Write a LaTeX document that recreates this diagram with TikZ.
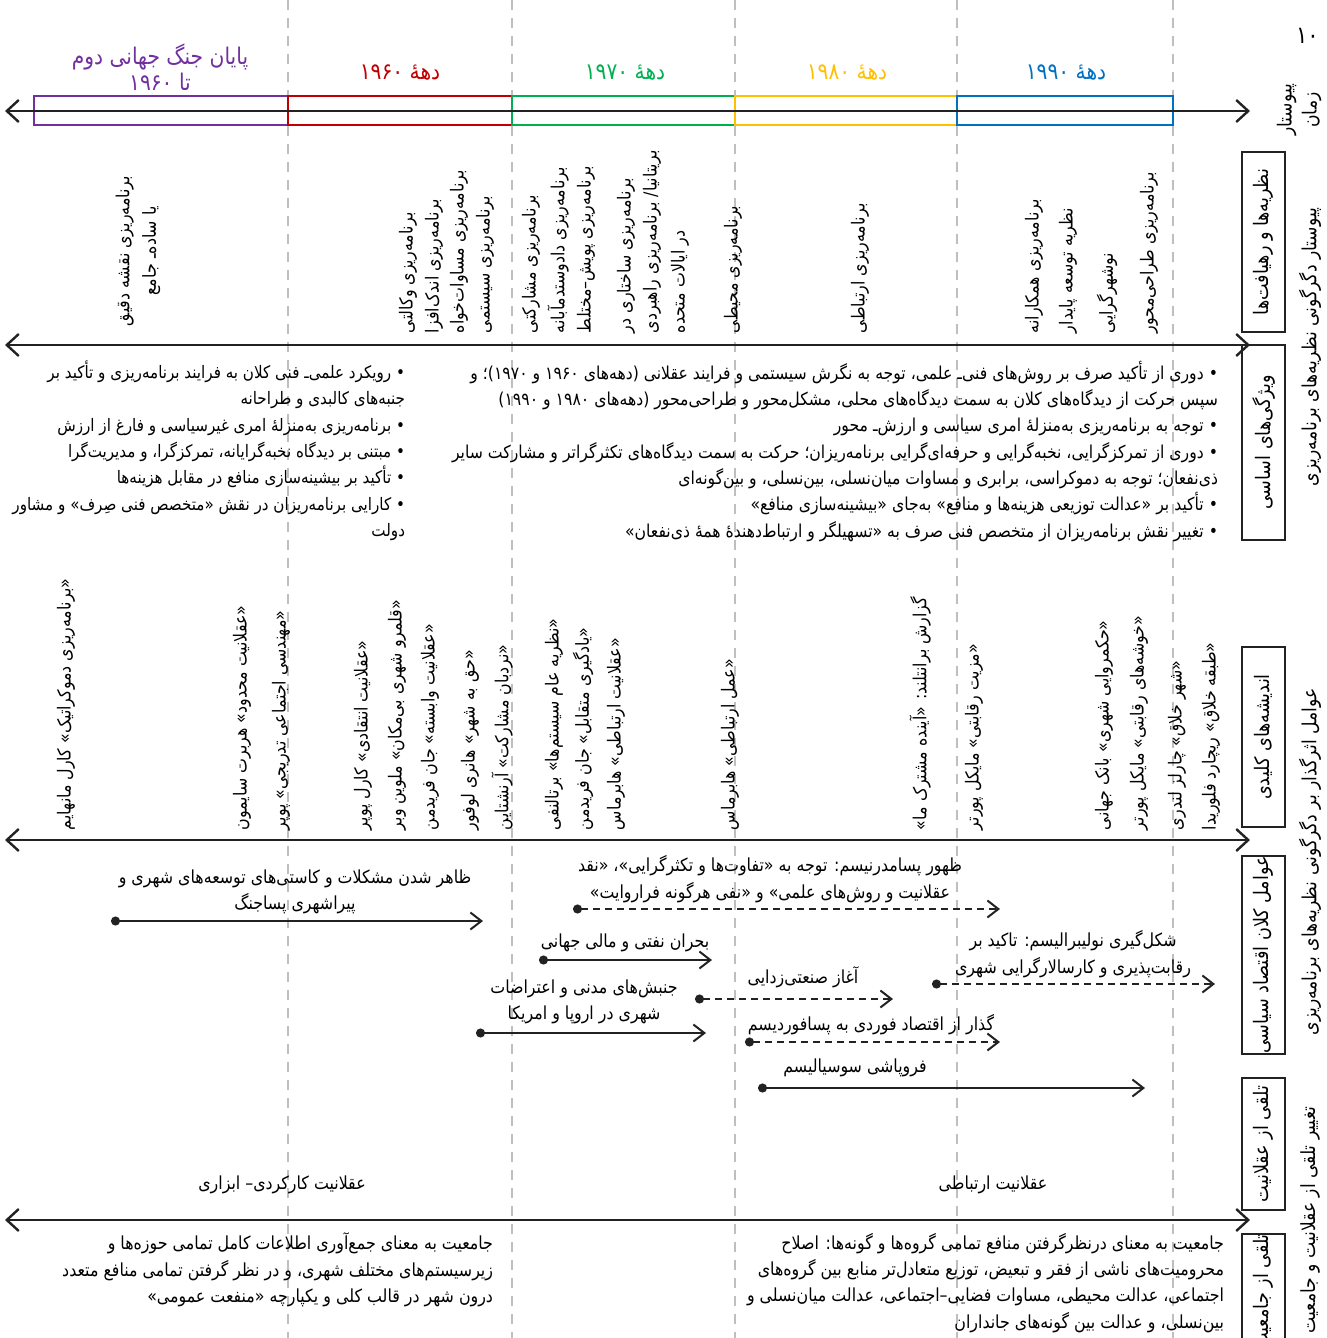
\documentclass[tikz,border=0pt]{standalone}
\usepackage{fontspec}
\usetikzlibrary{arrows.meta}
\newfontfamily\fa[Script=Arabic,FakeStretch=0.88]{DejaVu Sans}
\TeXXeTstate=1
\newcommand\fatxt[1]{\beginR#1\endR}
\definecolor{cpurple}{HTML}{7030A0}
\definecolor{cred}{HTML}{C00000}
\definecolor{cgreen}{HTML}{00B050}
\definecolor{cyellow}{HTML}{FFC000}
\definecolor{cblue}{HTML}{0070C0}
\definecolor{cgrid}{HTML}{BFBFBF}
\definecolor{cline}{HTML}{222222}
\begin{document}
\begin{tikzpicture}[x=1pt,y=-1pt,
  every node/.style={inner sep=0pt,outer sep=0pt},
  body/.style={font=\fa\fontsize{18}{26.3}\selectfont},
  hdr/.style={font=\fa\fontsize{23}{26}\selectfont},
  vt/.style={body,rotate=90,anchor=west},
  gridline/.style={draw=cgrid,line width=1.5pt,dash pattern=on 10pt off 8pt},
  dbox/.style={draw,line width=2pt,minimum height=29pt},
  sbox/.style={draw=cline,line width=2pt,rotate=90,minimum height=43pt,font=\fa\fontsize{20}{22}\selectfont},
  outer/.style={rotate=90,font=\fa\fontsize{19.5}{25}\selectfont},
  mainarrow/.style={draw=cline,line width=2.4pt,arrows={Straight Barb[length=12pt,width=22pt]-Straight Barb[length=12pt,width=22pt]}},
  factarrow/.style={draw=cline,line width=2pt,arrows={Circle[length=9pt]-Straight Barb[length=11pt,width=17pt]}},
  dfact/.style={factarrow,dash pattern=on 7pt off 5pt}
]
\useasboundingbox (0,0) rectangle (1326,1338);

% vertical dashed grid lines
\foreach \gx/\gn in {288/g1,512/g2,735/g3,957/g4,1173/g5}{
  \coordinate (\gn t) at (\gx,0);
  \coordinate (\gn b) at (\gx,1338);
  \draw[gridline] (\gn t) -- (\gn b);
}

% decade boxes
\node[dbox,draw=cpurple,minimum width=254pt] (b0) at (161,110.5) {};
\node[dbox,draw=cred,minimum width=224pt] (b1) at (400,110.5) {};
\node[dbox,draw=cgreen,minimum width=223pt] (b2) at (623.5,110.5) {};
\node[dbox,draw=cyellow,minimum width=222pt] (b3) at (846,110.5) {};
\node[dbox,draw=cblue,minimum width=216pt] (b4) at (1065,110.5) {};

% decade labels
\node[hdr,text=cpurple,align=center] (h0) at (160,67) {\fatxt{پایان جنگ جهانی دوم}\\\fatxt{تا ۱۹۶۰}};
\node[hdr,text=cred] (h1) at (400,73) {\fatxt{دههٔ ۱۹۶۰}};
\node[hdr,text=cgreen] (h2) at (625,73) {\fatxt{دههٔ ۱۹۷۰}};
\node[hdr,text=cyellow] (h3) at (847,73) {\fatxt{دههٔ ۱۹۸۰}};
\node[hdr,text=cblue] (h4) at (1066,73) {\fatxt{دههٔ ۱۹۹۰}};

% main double arrows
\coordinate (m1l) at (5,111);   \coordinate (m1r) at (1250,111);
\coordinate (m2l) at (5,345);   \coordinate (m2r) at (1250,345);
\coordinate (m3l) at (5,840);   \coordinate (m3r) at (1250,840);
\coordinate (m4l) at (5,1220);  \coordinate (m4r) at (1250,1220);
\draw[mainarrow] (m1l) -- (m1r);
\draw[mainarrow] (m2l) -- (m2r);
\draw[mainarrow] (m3l) -- (m3r);
\draw[mainarrow] (m4l) -- (m4r);

% theories (rotated)
\node[body,rotate=90,align=center] (t0) at (138,251) {\fatxt{برنامه‌ریزی نقشه دقیق}\\\fatxt{یا ساده‌ـ جامع}};
\node[vt] (t1a) at (408,333) {\fatxt{برنامه‌ریزی وکالتی}};
\node[vt] (t1b) at (434,333) {\fatxt{برنامه‌ریزی اندک‌افزا}};
\node[vt] (t1c) at (459,333) {\fatxt{برنامه‌ریزی مساوات‌خواه}};
\node[vt] (t1d) at (485,333) {\fatxt{برنامه‌ریزی سیستمی}};
\node[vt] (t2a) at (531,333) {\fatxt{برنامه‌ریزی مشارکتی}};
\node[vt] (t2b) at (558,333) {\fatxt{برنامه‌ریزی دادوستدمآبانه}};
\node[vt] (t2c) at (586,333) {\fatxt{برنامه‌ریزی پویش–مختلط}};
\node[vt] (t2d) at (626,333) {\fatxt{برنامه‌ریزی ساختاری در}};
\node[vt] (t2e) at (652,333) {\fatxt{بریتانیا/ برنامه‌ریزی راهبردی}};
\node[vt] (t2f) at (680,333) {\fatxt{در ایالات متحده}};
\node[vt] (t3a) at (733,333) {\fatxt{برنامه‌ریزی محیطی}};
\node[vt] (t3b) at (860,333) {\fatxt{برنامه‌ریزی ارتباطی}};
\node[vt] (t4a) at (1034,333) {\fatxt{برنامه‌ریزی همکارانه}};
\node[vt] (t4b) at (1068,333) {\fatxt{نظریه توسعه پایدار}};
\node[vt] (t4c) at (1107,333) {\fatxt{نوشهرگرایی}};
\node[vt] (t4d) at (1149,333) {\fatxt{برنامه‌ریزی طراحی‌محور}};

% basic features
\node[body,font=\fa\fontsize{17.2}{26.3}\selectfont,align=right,anchor=north east] (f0) at (405,361) {%
\fatxt{• رویکرد علمی‌ـ فنی کلان به فرایند برنامه‌ریزی و تأکید بر}\\
\fatxt{جنبه‌های کالبدی و طراحانه}\\
\fatxt{• برنامه‌ریزی به‌منزلهٔ امری غیرسیاسی و فارغ از ارزش}\\
\fatxt{• مبتنی بر دیدگاه نخبه‌گرایانه، تمرکزگرا، و مدیریت‌گرا}\\
\fatxt{• تأکید بر بیشینه‌سازی منافع در مقابل هزینه‌ها}\\
\fatxt{• کارایی برنامه‌ریزان در نقش «متخصص فنی صِرف» و مشاور}\\
\fatxt{دولت}};
\node[body,font=\fa\fontsize{17.8}{26.3}\selectfont,align=right,anchor=north east] (f1) at (1218,361) {%
\fatxt{• دوری از تأکید صرف بر روش‌های فنی‌ـ علمی، توجه به نگرش سیستمی و فرایند عقلانی (دهه‌های ۱۹۶۰ و ۱۹۷۰)؛ و}\\
\fatxt{سپس حرکت از دیدگاه‌های کلان به سمت دیدگاه‌های محلی، مشکل‌محور و طراحی‌محور (دهه‌های ۱۹۸۰ و ۱۹۹۰)}\\
\fatxt{• توجه به برنامه‌ریزی به‌منزلهٔ امری سیاسی و ارزش‌ـ محور}\\
\fatxt{• دوری از تمرکزگرایی، نخبه‌گرایی و حرفه‌ای‌گرایی برنامه‌ریزان؛ حرکت به سمت دیدگاه‌های تکثرگراتر و مشارکت سایر}\\
\fatxt{ذی‌نفعان؛ توجه به دموکراسی، برابری و مساوات میان‌نسلی، بین‌نسلی، و بین‌گونه‌ای}\\
\fatxt{• تأکید بر «عدالت توزیعی هزینه‌ها و منافع» به‌جای «بیشینه‌سازی منافع»}\\
\fatxt{• تغییر نقش برنامه‌ریزان از متخصص فنی صرف به «تسهیلگر و ارتباط‌دهندهٔ همهٔ ذی‌نفعان»}};

% key ideas (rotated)
\node[vt] (k1) at (66,830) {\fatxt{«برنامه‌ریزی دموکراتیک» کارل مانهایم}};
\node[vt] (k2) at (242,830) {\fatxt{«عقلانیت محدود» هربرت سایمون}};
\node[vt] (k3) at (281,830) {\fatxt{«مهندسی اجتماعی تدریجی» پوپر}};
\node[vt] (k4) at (363,830) {\fatxt{«عقلانیت انتقادی» کارل پوپر}};
\node[vt] (k5) at (397,830) {\fatxt{«قلمرو شهری بی‌مکان» ملوین وبر}};
\node[vt] (k6) at (430,830) {\fatxt{«عقلانیت وابسته» جان فریدمن}};
\node[vt] (k7) at (470,830) {\fatxt{«حق به شهر» هانری لوفور}};
\node[vt] (k8) at (502,830) {\fatxt{«نردبان مشارکت» آرنشتاین}};
\node[vt] (k9) at (554,830) {\fatxt{«نظریه عام سیستم‌ها» برتالنفی}};
\node[vt] (k10) at (583,830) {\fatxt{«یادگیری متقابل» جان فریدمن}};
\node[vt] (k11) at (616,830) {\fatxt{«عقلانیت ارتباطی» هابرماس}};
\node[vt] (k12) at (730,830) {\fatxt{«عمل ارتباطی» هابرماس}};
\node[vt] (k13) at (920,830) {\fatxt{گزارش برانتلند: «آینده مشترک ما»}};
\node[vt] (k14) at (974,830) {\fatxt{«مزیت رقابتی» مایکل پورتر}};
\node[vt] (k15) at (1104,830) {\fatxt{«حکمروایی شهری» بانک جهانی}};
\node[vt] (k16) at (1139,830) {\fatxt{«خوشه‌های رقابتی» مایکل پورتر}};
\node[vt] (k17) at (1177,830) {\fatxt{«شهر خلاق» چارلز لندری}};
\node[vt] (k18) at (1211,830) {\fatxt{«طبقه خلاق» ریچارد فلوریدا}};

% macro factors
\node[body,align=center] (e1) at (295,892) {\fatxt{ظاهر شدن مشکلات و کاستی‌های توسعه‌های شهری و}\\\fatxt{پیراشهری پساجنگ}};
\node[body,align=center] (e2) at (770,879) {\fatxt{ظهور پسامدرنیسم: توجه به «تفاوت‌ها و تکثرگرایی»، «نقد}\\\fatxt{عقلانیت و روش‌های علمی» و «نفی هرگونه فراروایت»}};
\node[body] (e3) at (625,943) {\fatxt{بحران نفتی و مالی جهانی}};
\node[body] (e4) at (803,977) {\fatxt{آغاز صنعتی‌زدایی}};
\node[body,align=center] (e5) at (1073,954) {\fatxt{شکل‌گیری نولیبرالیسم: تاکید بر}\\\fatxt{رقابت‌پذیری و کارسالارگرایی شهری}};
\node[body,align=center] (e6) at (584,1002) {\fatxt{جنبش‌های مدنی و اعتراضات}\\\fatxt{شهری در اروپا و امریکا}};
\node[body] (e7) at (871,1025) {\fatxt{گذار از اقتصاد فوردی به پسافوردیسم}};
\node[body] (e8) at (855,1068) {\fatxt{فروپاشی سوسیالیسم}};

\coordinate (a1s) at (111,921);  \coordinate (a1e) at (483,921);
\coordinate (a2s) at (573,909);  \coordinate (a2e) at (1000,909);
\coordinate (a3s) at (539,960);  \coordinate (a3e) at (712,960);
\coordinate (a4s) at (695,999);  \coordinate (a4e) at (893,999);
\coordinate (a5s) at (932,984);  \coordinate (a5e) at (1215,984);
\coordinate (a6s) at (476,1033); \coordinate (a6e) at (706,1033);
\coordinate (a7s) at (745,1042); \coordinate (a7e) at (1000,1042);
\coordinate (a8s) at (758,1088); \coordinate (a8e) at (1145,1088);
\draw[factarrow] (a1s) -- (a1e);
\draw[dfact] (a2s) -- (a2e);
\draw[factarrow] (a3s) -- (a3e);
\draw[dfact] (a4s) -- (a4e);
\draw[dfact] (a5s) -- (a5e);
\draw[factarrow] (a6s) -- (a6e);
\draw[dfact] (a7s) -- (a7e);
\draw[factarrow] (a8s) -- (a8e);

% rationality
\node[body] (r1) at (282,1185) {\fatxt{عقلانیت کارکردی– ابزاری}};
\node[body] (r2) at (993,1185) {\fatxt{عقلانیت ارتباطی}};

% comprehensiveness
\node[body,align=right,anchor=north east] (c1) at (493,1233) {%
\fatxt{جامعیت به معنای جمع‌آوری اطلاعات کامل تمامی حوزه‌ها و}\\
\fatxt{زیرسیستم‌های مختلف شهری، و در نظر گرفتن تمامی منافع متعدد}\\
\fatxt{درون شهر در قالب کلی و یکپارچه «منفعت عمومی»}};
\node[body,align=right,anchor=north east] (c2) at (1224,1233) {%
\fatxt{جامعیت به معنای درنظرگرفتن منافع تمامی گروه‌ها و گونه‌ها: اصلاح}\\
\fatxt{محرومیت‌های ناشی از فقر و تبعیض، توزیع متعادل‌تر منابع بین گروه‌های}\\
\fatxt{اجتماعی، عدالت محیطی، مساوات فضایی–اجتماعی، عدالت میان‌نسلی و}\\
\fatxt{بین‌نسلی، و عدالت بین گونه‌های جانداران}};

% right column boxes
\node[sbox,minimum width=180pt] (s1) at (1263.5,242) {\fatxt{نظریه‌ها و رهیافت‌ها}};
\node[sbox,minimum width=195pt] (s2) at (1263.5,442.5) {\fatxt{ویژگی‌های اساسی}};
\node[sbox,minimum width=180pt] (s3) at (1263.5,737) {\fatxt{اندیشه‌های کلیدی}};
\node[sbox,minimum width=196pt] (s4) at (1263.5,955) {\fatxt{عوامل کلان اقتصاد سیاسی}};
\node[sbox,minimum width=132pt] (s5) at (1263.5,1144) {\fatxt{تلقی از عقلانیت}};
\node[sbox,minimum width=115pt] (s6) at (1263.5,1292) {\fatxt{تلقی از جامعیت}};

% outer labels
\node[outer,align=center] (o0) at (1299,110) {\fatxt{پیوستار}\\\fatxt{زمان}};
\node[outer] (o1) at (1310,347) {\fatxt{پیوستار دگرگونی نظریه‌های برنامه‌ریزی}};
\node[outer] (o2) at (1310,862) {\fatxt{عوامل اثرگذار بر دگرگونی نظریه‌های برنامه‌ریزی}};
\node[outer] (o3) at (1310,1220) {\fatxt{تغییر تلقی از عقلانیت و جامعیت}};
\node[font=\fa\fontsize{24}{26}\selectfont,anchor=west] (pg) at (1296,36) {\fatxt{۱۰}};
\end{tikzpicture}
\end{document}
